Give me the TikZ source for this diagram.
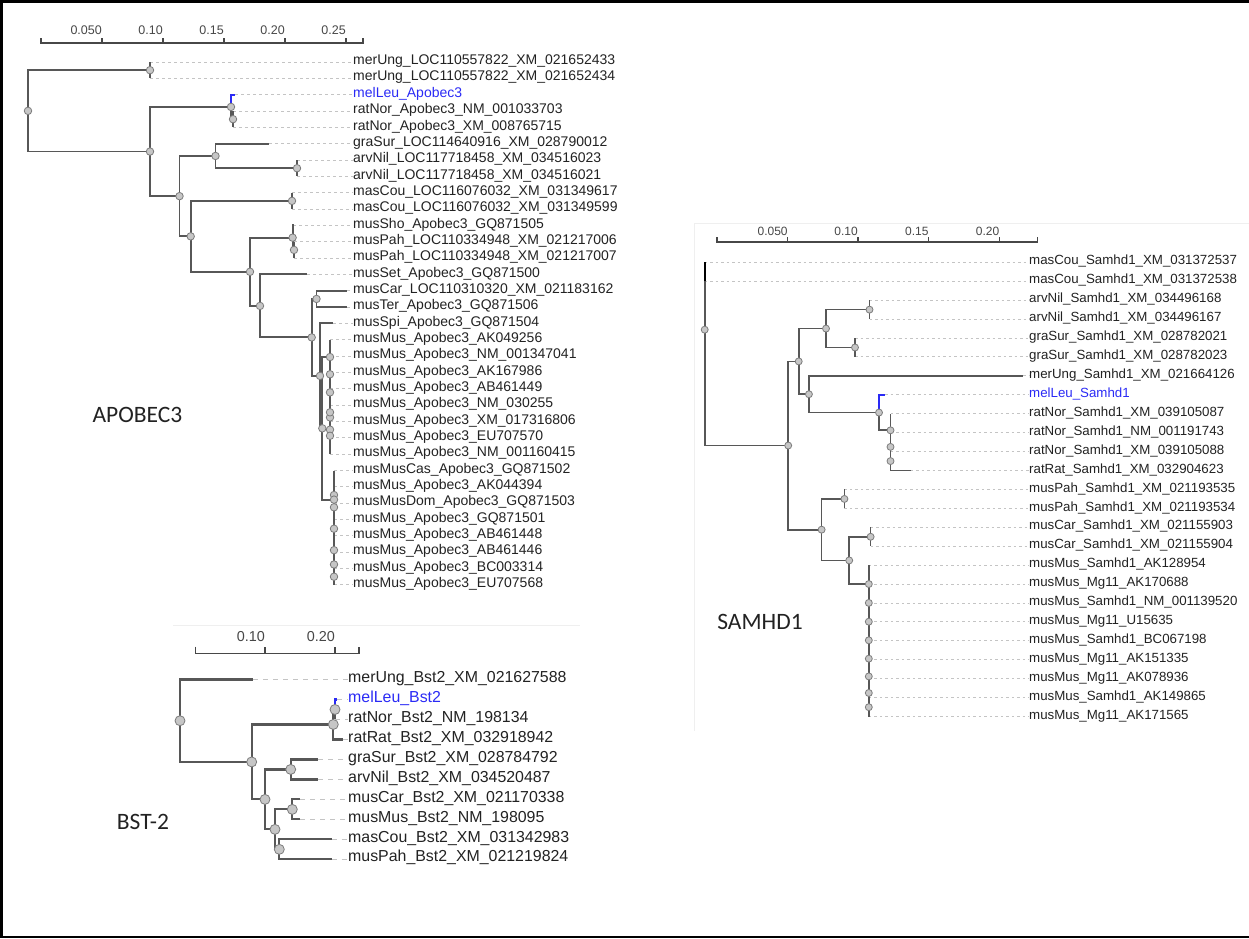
\documentclass[tikz,border=0pt]{standalone}
\usepackage{fontspec}
\setmainfont{Liberation Sans}
\newfontfamily\panelfont{Carlito}
\usetikzlibrary{calc}
\definecolor{branch-gray}{HTML}{575757}
\definecolor{knot-fill}{HTML}{C6C6C6}
\definecolor{knot-line}{HTML}{7C7C7C}
\definecolor{leader-gray}{HTML}{C4C4C4}
\definecolor{query-blue}{HTML}{2A2AF5}
\definecolor{label-ink}{HTML}{222222}
\definecolor{scale-ink}{HTML}{474747}
\definecolor{panel-edge}{HTML}{EFEFEF}

\tikzset{
  branch/.style={draw=branch-gray, line width=1.9pt},
  knot/.style={circle, draw=knot-line, fill=knot-fill, line width=0.8pt,
               inner sep=0pt, minimum size=7.5pt},
  leader/.style={draw=leader-gray, line width=1pt, dash pattern=on 3pt off 3pt},
  taxon/.style={anchor=west, inner sep=0pt, text=label-ink,
                text height=0.75em, text depth=0.22em},
  scalebar/.style={draw=scale-ink, line width=1.3pt},
  scalenum/.style={anchor=east, inner sep=0pt, text=scale-ink},
  panel/.style={font=\panelfont\fontsize{23.5}{26}\selectfont, text=label-ink},
}

% clade: [style of first edge]{name}{x}{child 1}{child 2}, y = middle of children
\newcommand{\clade}[5][]{%
  \path ($(#4)!0.5!(#5)$) coordinate (#2mid);
  \coordinate (#2) at (#2mid -| #3,0);
  \draw[branch, #1] (#2) |- (#4);
  \draw[branch] (#2) |- (#5);}

\begin{document}
\begin{tikzpicture}[x=1pt, y=-1pt]
    % Diagram: three gene trees (APOBEC3, SAMHD1, BST-2) on one sheet.
    % Coordinates: (x, y) in px of the sheet, y counted downwards
    %   APOBEC3 rows at y = 62 + 16.34 (i-1), labels from x = 353
    %   SAMHD1 rows at y = 262.3 + 18.93 (i-1), labels from x = 1029
    %   BST-2 rows at y = 679.5 + 19.98 (i-1), labels from x = 348
    \useasboundingbox (0,0) rectangle (1249,938);
    \draw[line width=3pt] (1249,1.5) -- (1.5,1.5) -- (1.5,938);
    \draw[line width=2pt] (0,937) -- (1249,937);
    \draw[panel-edge, line width=1pt] (1249,223) -- (694.5,223) -- (694.5,731);
    \draw[panel-edge, line width=1pt] (173,625) -- (580,625);

    % ---------------- APOBEC3 ----------------
    \begin{scope}[taxon/.append style={font=\fontsize{14}{16}\selectfont}]
    \draw[scalebar] (41,38) -- (41,43) -- (363,43) -- (363,38);
    \foreach \t/\val in {102/0.050,163/0.10,224/0.15,285/0.20,346/0.25}{
      \draw[scalebar] (\t,43) -- (\t,38);
      \node[scalenum, font=\fontsize{12.5}{14}\selectfont] (a-tick-\t) at (\t,30) {\val};
    }
    \foreach \i/\tx/\ink/\tname in {
        1/150/label-ink/merUng\_LOC110557822\_XM\_021652433,
        2/150/label-ink/merUng\_LOC110557822\_XM\_021652434,
        3/235/query-blue/melLeu\_Apobec3,
        4/233/label-ink/ratNor\_Apobec3\_NM\_001033703,
        5/233/label-ink/ratNor\_Apobec3\_XM\_008765715,
        6/269/label-ink/graSur\_LOC114640916\_XM\_028790012,
        7/297/label-ink/arvNil\_LOC117718458\_XM\_034516023,
        8/297/label-ink/arvNil\_LOC117718458\_XM\_034516021,
        9/292/label-ink/masCou\_LOC116076032\_XM\_031349617,
        10/292/label-ink/masCou\_LOC116076032\_XM\_031349599,
        11/293/label-ink/musSho\_Apobec3\_GQ871505,
        12/294/label-ink/musPah\_LOC110334948\_XM\_021217006,
        13/294/label-ink/musPah\_LOC110334948\_XM\_021217007,
        14/307/label-ink/musSet\_Apobec3\_GQ871500,
        15/347/label-ink/musCar\_LOC110310320\_XM\_021183162,
        16/347/label-ink/musTer\_Apobec3\_GQ871506,
        17/333/label-ink/musSpi\_Apobec3\_GQ871504,
        18/330/label-ink/musMus\_Apobec3\_AK049256,
        19/330/label-ink/musMus\_Apobec3\_NM\_001347041,
        20/330/label-ink/musMus\_Apobec3\_AK167986,
        21/330/label-ink/musMus\_Apobec3\_AB461449,
        22/330/label-ink/musMus\_Apobec3\_NM\_030255,
        23/330/label-ink/musMus\_Apobec3\_XM\_017316806,
        24/330/label-ink/musMus\_Apobec3\_EU707570,
        25/330/label-ink/musMus\_Apobec3\_NM\_001160415,
        26/334/label-ink/musMusCas\_Apobec3\_GQ871502,
        27/334/label-ink/musMus\_Apobec3\_AK044394,
        28/334/label-ink/musMusDom\_Apobec3\_GQ871503,
        29/334/label-ink/musMus\_Apobec3\_GQ871501,
        30/334/label-ink/musMus\_Apobec3\_AB461448,
        31/334/label-ink/musMus\_Apobec3\_AB461446,
        32/334/label-ink/musMus\_Apobec3\_BC003314,
        33/334/label-ink/musMus\_Apobec3\_EU707568}{
      \coordinate (a\i) at (\tx, {62+(\i-1)*16.34});
      \node[taxon, text=\ink] (a\i-lab) at (353, {62+(\i-1)*16.34}) {\tname};
      \draw[leader] (a\i) -- (a\i-lab.west);
    }
    \clade{aA}{150}{a1}{a2}
    \clade{aC2}{233}{a4}{a5}
    \clade[draw=query-blue]{aC}{231}{a3}{aC2}
    \clade{aG}{297}{a7}{a8}
    \clade{aE}{215.5}{a6}{aG}
    \clade{aH}{292}{a9}{a10}
    \clade{aJ2}{294}{a12}{a13}
    \clade{aJ}{292.6}{a11}{aJ2}
    \clade{aM}{316.5}{a15}{a16}
    \clade{aQ7}{330}{a23}{a24}
    \clade{aQ6}{330}{a22}{aQ7}
    \clade{aQ5}{330}{aQ6}{a25}
    \clade{aQ4}{330}{a21}{aQ5}
    \clade{aQ3}{330}{a20}{aQ4}
    \clade{aQ2}{330}{a19}{aQ3}
    \clade{aQ1}{330}{a18}{aQ2}
    \clade{aT7}{334}{a32}{a33}
    \clade{aT6}{334}{a31}{aT7}
    \clade{aT5}{334}{a30}{aT6}
    \clade{aTc}{334}{a27}{a28}
    \clade{aTb}{334}{aTc}{a29}
    \clade{aT4}{334}{aTb}{aT5}
    \clade{aS}{334}{a26}{aT4}
    \clade{aP}{322.3}{aQ1}{aS}
    \clade{aO}{320}{a17}{aP}
    \clade{aL}{311.7}{aM}{aO}
    \clade{aK}{260}{a14}{aL}
    \clade{aI}{250}{aJ}{aK}
    \clade{aF}{190.7}{aH}{aI}
    \clade{aD}{179.5}{aE}{aF}
    \clade{aB}{150}{aC}{aD}
    \clade{aR}{28}{aA}{aB}
    \foreach \n in {aA,aC2,aC,aG,aE,aH,aJ2,aJ,aM,aQ7,aQ6,aQ5,aQ4,aQ3,aQ2,aQ1,
                    aT7,aT6,aT5,aTc,aTb,aT4,aS,aP,aO,aL,aK,aI,aF,aD,aB,aR}
      \node[knot] (\n-knot) at (\n) {};
    \node[panel] (apobec-title) at (137.5,415) {APOBEC3};
    \end{scope}

    % ---------------- SAMHD1 ----------------
    \begin{scope}[taxon/.append style={font=\fontsize{13.3}{15}\selectfont},
                  branch/.append style={line width=1.7pt},
                  knot/.append style={minimum size=7pt},
                  leader/.append style={dash pattern=on 2.5pt off 3pt}]
    \draw[scalebar] (717,237) -- (717,242) -- (1037.6,242) -- (1037.6,237);
    \foreach \t/\val in {787.8/0.050,857.9/0.10,928.7/0.15,999.4/0.20}{
      \draw[scalebar] (\t,242) -- (\t,237);
      \node[scalenum, font=\fontsize{12}{14}\selectfont] (s-tick-\t) at (\t,231.5) {\val};
    }
    \foreach \i/\tx/\ink/\tname in {
        1/704.7/label-ink/masCou\_Samhd1\_XM\_031372537,
        2/704.7/label-ink/masCou\_Samhd1\_XM\_031372538,
        3/869.5/label-ink/arvNil\_Samhd1\_XM\_034496168,
        4/869.5/label-ink/arvNil\_Samhd1\_XM\_034496167,
        5/855/label-ink/graSur\_Samhd1\_XM\_028782021,
        6/855/label-ink/graSur\_Samhd1\_XM\_028782023,
        7/1023/label-ink/merUng\_Samhd1\_XM\_021664126,
        8/885/query-blue/melLeu\_Samhd1,
        9/890.5/label-ink/ratNor\_Samhd1\_XM\_039105087,
        10/890.5/label-ink/ratNor\_Samhd1\_NM\_001191743,
        11/890.5/label-ink/ratNor\_Samhd1\_XM\_039105088,
        12/910.5/label-ink/ratRat\_Samhd1\_XM\_032904623,
        13/844.4/label-ink/musPah\_Samhd1\_XM\_021193535,
        14/844.4/label-ink/musPah\_Samhd1\_XM\_021193534,
        15/870.6/label-ink/musCar\_Samhd1\_XM\_021155903,
        16/870.6/label-ink/musCar\_Samhd1\_XM\_021155904,
        17/868.8/label-ink/musMus\_Samhd1\_AK128954,
        18/868.8/label-ink/musMus\_Mg11\_AK170688,
        19/868.8/label-ink/musMus\_Samhd1\_NM\_001139520,
        20/868.8/label-ink/musMus\_Mg11\_U15635,
        21/868.8/label-ink/musMus\_Samhd1\_BC067198,
        22/868.8/label-ink/musMus\_Mg11\_AK151335,
        23/868.8/label-ink/musMus\_Mg11\_AK078936,
        24/868.8/label-ink/musMus\_Samhd1\_AK149865,
        25/868.8/label-ink/musMus\_Mg11\_AK171565}{
      \coordinate (s\i) at (\tx, {262.3+(\i-1)*18.93});
      \node[taxon, text=\ink] (s\i-lab) at (1029, {262.3+(\i-1)*18.93}) {\tname};
      \draw[leader] (s\i) -- (s\i-lab.west);
    }
    \clade{sArv}{869.5}{s3}{s4}
    \clade{sGra}{855}{s5}{s6}
    \clade{sY1}{826}{sArv}{sGra}
    \clade{sV3}{890.5}{s11}{s12}
    \clade{sV2}{890.5}{s10}{sV3}
    \clade{sV}{890.5}{s9}{sV2}
    \clade[draw=query-blue]{sW}{879}{s8}{sV}
    \clade{sY2}{808.9}{s7}{sW}
    \clade{sY}{798.7}{sY1}{sY2}
    \clade{sPah}{844.4}{s13}{s14}
    \clade{sCar}{870.6}{s15}{s16}
    \clade{sU8}{868.8}{s24}{s25}
    \clade{sU7}{868.8}{s23}{sU8}
    \clade{sU6}{868.8}{s22}{sU7}
    \clade{sU5}{868.8}{s21}{sU6}
    \clade{sU4}{868.8}{s20}{sU5}
    \clade{sU3}{868.8}{s19}{sU4}
    \clade{sU2}{868.8}{s18}{sU3}
    \clade{sU1}{868.8}{s17}{sU2}
    \clade{sZ2}{849.2}{sCar}{sU1}
    \clade{sZ}{821.6}{sPah}{sZ2}
    \clade{sX}{788.2}{sY}{sZ}
    % root has three children: both masCou tips and the rest
    \path ($(s1)!0.5!(s2)$) coordinate (sRpair);
    \path ($(sRpair)!0.3333!(sX)$) coordinate (sRmid);
    \coordinate (sR) at (sRmid -| 704.7,0);
    \draw[branch, draw=black] (sR) |- (s1);
    \draw[branch] (sR) |- (s2);
    \draw[branch] (sR) |- (sX);
    \draw[branch, draw=black] (s1) -- (s2);
    \foreach \n in {sArv,sGra,sY1,sV3,sV2,sV,sW,sY2,sY,sPah,sCar,sU8,sU7,sU6,
                    sU5,sU4,sU3,sU2,sU1,sZ2,sZ,sX,sR}
      \node[knot] (\n-knot) at (\n) {};
    \node[panel] (samhd-title) at (760,622) {SAMHD1};
    \end{scope}

    % ---------------- BST-2 ----------------
    \begin{scope}[taxon/.append style={font=\fontsize{15.9}{18}\selectfont},
                  branch/.append style={line width=2.2pt},
                  knot/.append style={minimum size=10pt},
                  leader/.append style={line width=1.4pt, dash pattern=on 5pt off 5pt}]
    \draw[scalebar] (195.7,646.5) -- (195.7,653.5) -- (359,653.5) -- (359,646.5);
    \foreach \t/\val in {265/0.10,335/0.20}{
      \draw[scalebar] (\t,653.5) -- (\t,646.5);
      \node[scalenum, font=\fontsize{14.4}{16}\selectfont] (b-tick-\t) at (\t,636.5) {\val};
    }
    \foreach \i/\tx/\ink/\tname in {
        1/253.3/label-ink/merUng\_Bst2\_XM\_021627588,
        2/337/query-blue/melLeu\_Bst2,
        3/335/label-ink/ratNor\_Bst2\_NM\_198134,
        4/343/label-ink/ratRat\_Bst2\_XM\_032918942,
        5/318.3/label-ink/graSur\_Bst2\_XM\_028784792,
        6/318.3/label-ink/arvNil\_Bst2\_XM\_034520487,
        7/300/label-ink/musCar\_Bst2\_XM\_021170338,
        8/300/label-ink/musMus\_Bst2\_NM\_198095,
        9/331.7/label-ink/masCou\_Bst2\_XM\_031342983,
        10/331.7/label-ink/musPah\_Bst2\_XM\_021219824}{
      \coordinate (b\i) at (\tx, {679.5+(\i-1)*19.98});
      \node[taxon, text=\ink] (b\i-lab) at (348, {679.5+(\i-1)*19.98}) {\tname};
      \draw[leader] (b\i) -- (b\i-lab.west);
    }
    \clade[draw=query-blue]{bRat2}{335}{b2}{b3}
    \clade{bRat}{333.3}{bRat2}{b4}
    \clade{bB3}{290.7}{b5}{b6}
    \clade{bB5}{292.3}{b7}{b8}
    \clade{bB6}{279.3}{b9}{b10}
    \clade{bB4}{275}{bB5}{bB6}
    \clade{bB2}{265}{bB3}{bB4}
    \clade{bB1}{251.7}{bRat}{bB2}
    \clade{bR}{180}{b1}{bB1}
    \foreach \n in {bRat2,bRat,bB3,bB5,bB6,bB4,bB2,bB1,bR}
      \node[knot] (\n-knot) at (\n) {};
    \node[panel] (bst-title) at (143,822) {BST-2};
    \end{scope}
\end{tikzpicture}
\end{document}
